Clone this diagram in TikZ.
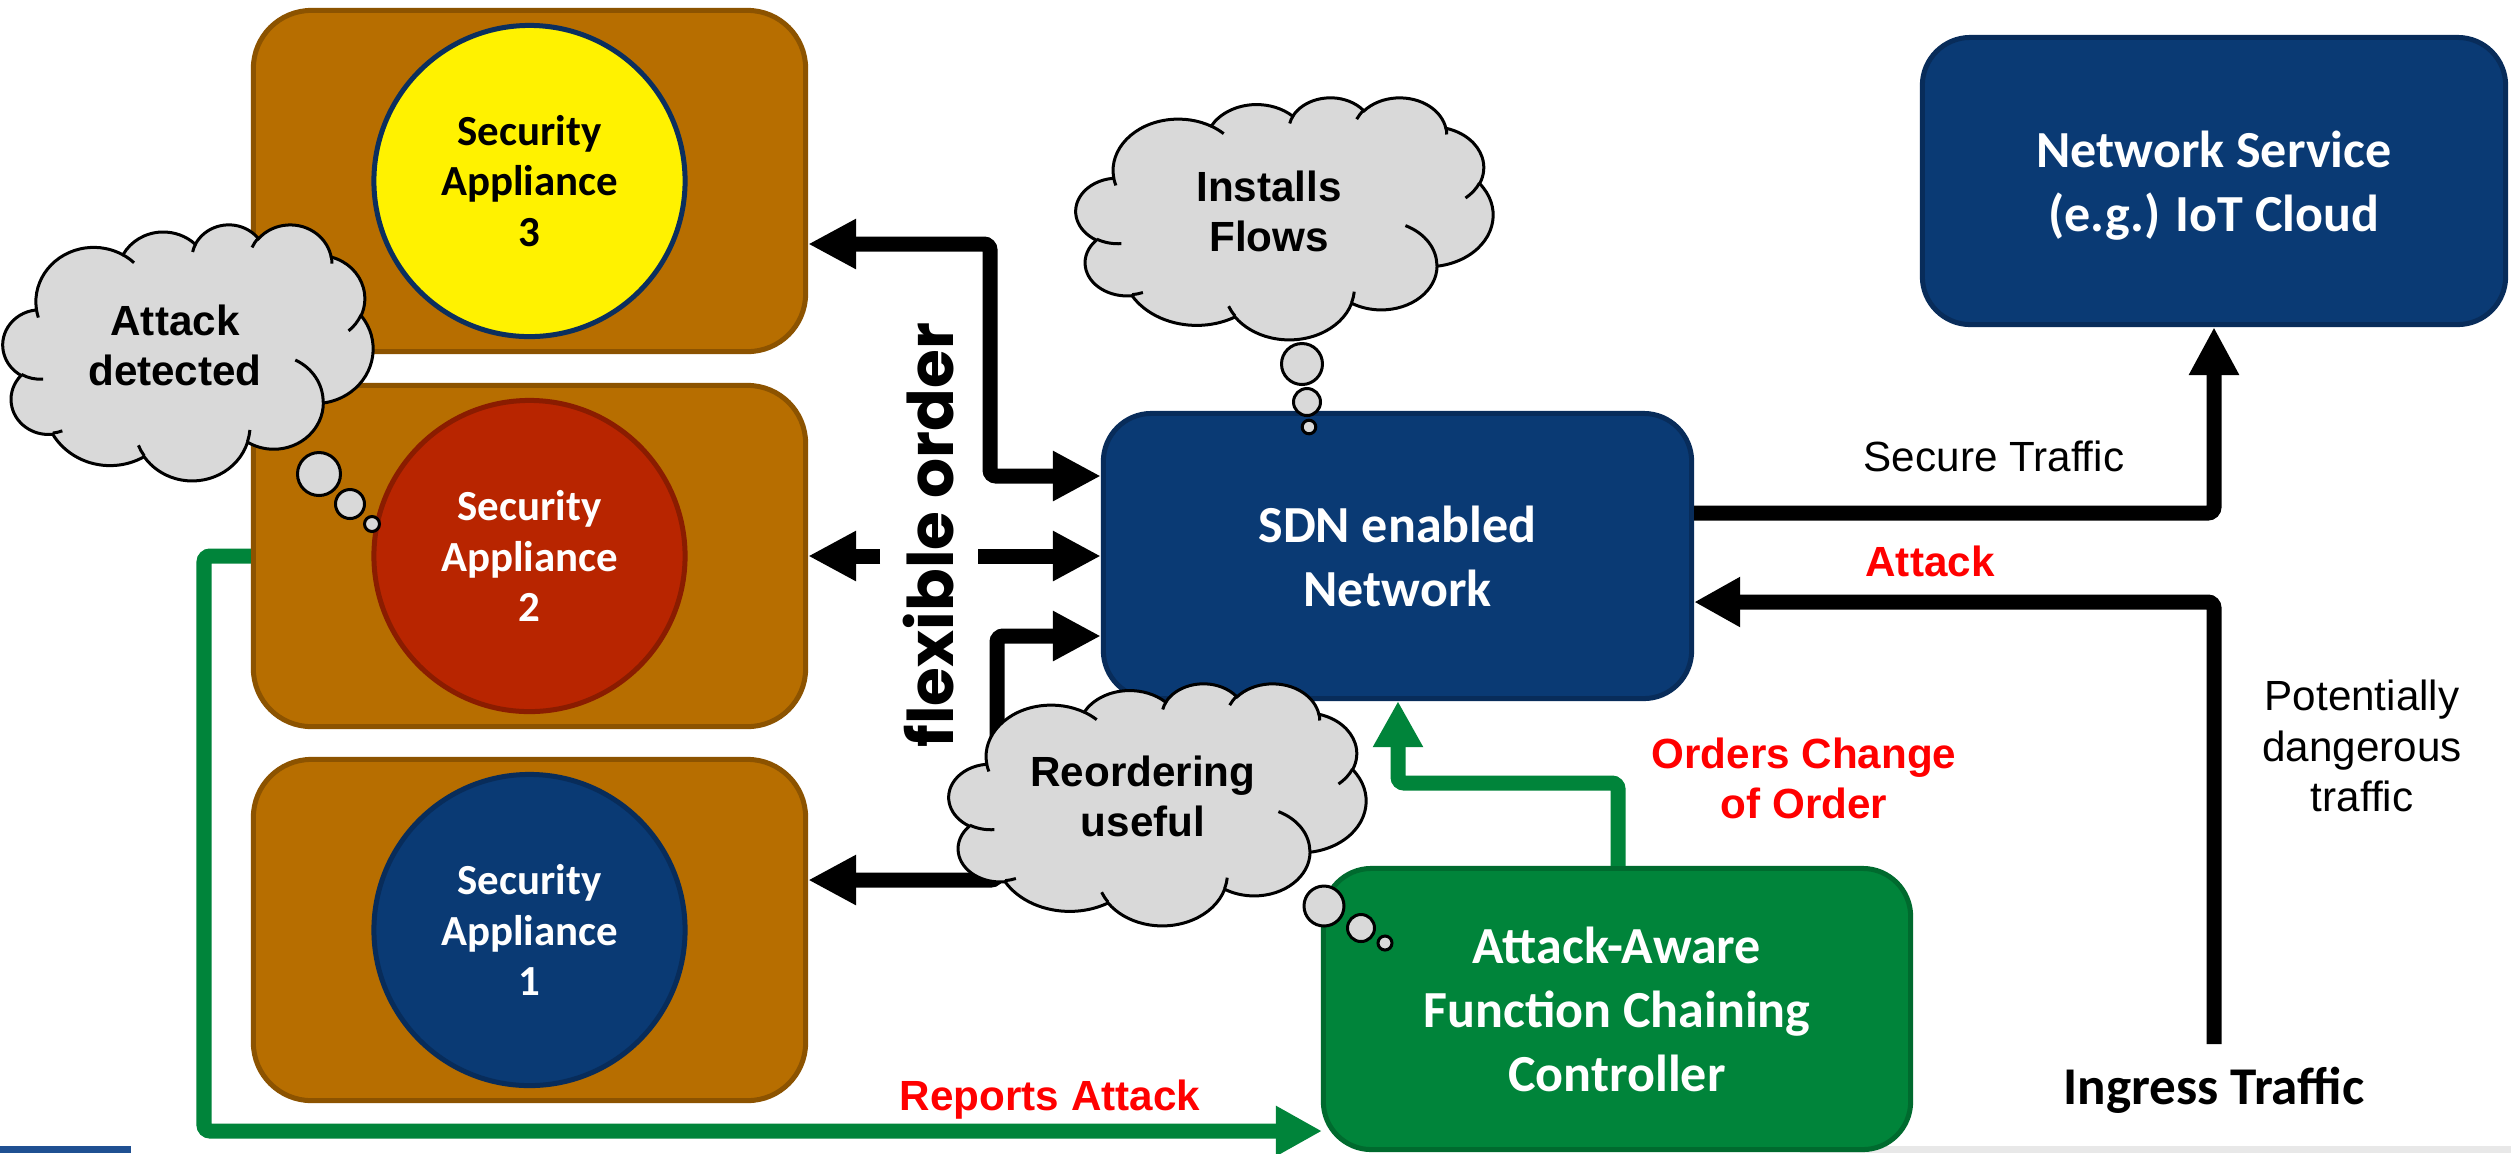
\documentclass[tikz,border=0pt]{standalone}
\usepackage{fontspec}
\setmainfont{Liberation Sans}
\newfontfamily\calfont{Carlito}
\newfontfamily\geofont{Poppins}
\usetikzlibrary{arrows.meta,calc}

\definecolor{navyfill}{HTML}{0A3A74}
\definecolor{navyedge}{HTML}{082C5A}
\definecolor{brownfill}{HTML}{B76E00}
\definecolor{brownedge}{HTML}{8C5300}
\definecolor{greenfill}{HTML}{00843A}
\definecolor{greenedge}{HTML}{006A2E}
\definecolor{redfill}{HTML}{B82500}
\definecolor{rededge}{HTML}{8A1C00}
\definecolor{yellowedge}{HTML}{0B2F5E}
\definecolor{cloudgray}{HTML}{D9D9D9}
\definecolor{alertred}{HTML}{FF0000}
\definecolor{barblue}{HTML}{1F5092}
\definecolor{bargray}{HTML}{E8E8E8}

% one arc of the cloud outline; angles are visual angles of the ellipse
\newcommand\cloudarc[4]{arc[x radius=#1,y radius=#2,
  start angle={atan2((#1)*sin(#3),(#2)*cos(#3))},
  delta angle={mod(atan2((#1)*sin((#3)+(#4)),(#2)*cos((#3)+(#4)))-atan2((#1)*sin(#3),(#2)*cos(#3))+720,360)}]}

% cloud outline in a 432 x 432 frame
\newcommand\cloudoutline{(39,143.7)
  \cloudarc{67.53}{91.90}{-190.487}{123.781}
  \cloudarc{53.33}{72.67}{-144.102}{89.945}
  \cloudarc{43.65}{59.45}{-145.808}{99.723}
  \cloudarc{48.57}{65.95}{-130.986}{117.242}
  \cloudarc{53.33}{72.73}{-78.709}{109.027}
  \cloudarc{67.75}{92.20}{-46.267}{130.269}
  \cloudarc{57.85}{78.67}{0.625}{114.033}
  \cloudarc{67.52}{92.15}{22.452}{115.173}
  \cloudarc{77.20}{105.43}{66.243}{75.711}
  \cloudarc{43.60}{59.18}{-274.942}{146.736}
  \cloudarc{43.45}{59.45}{-246.829}{152.519} -- cycle}

% small inner strokes of the cloud
\newcommand\cloudinner{%
  (46.93,261.77) \cloudarc{43.45}{59.45}{86.742}{26.430}
  (69.28,348.99) \cloudarc{43.60}{59.18}{73.610}{11.447}
  (164.78,390.90) \cloudarc{67.52}{92.15}{137.624}{14.081}
  (288.27,347.51) \cloudarc{67.52}{92.15}{6.453}{15.998}
  (341.29,229.54) \cloudarc{57.85}{78.67}{-70.292}{70.917}
  (417.98,153.54) \cloudarc{53.33}{72.73}{30.318}{27.752}
  (383.24,54.26) \cloudarc{48.57}{65.95}{-13.744}{14.859}
  (290.78,39.52) \cloudarc{48.57}{65.95}{-149.181}{18.195}
  (221.41,47.20) \cloudarc{43.65}{59.45}{-163.494}{17.686}
  (140.00,51.92) \cloudarc{67.53}{91.90}{-66.707}{12.319}
  (41.27,157.89) \cloudarc{67.53}{91.90}{157.654}{11.858}}

% cloud with top-left corner (#1,#2), width #3, height #4
\newcommand\thoughtcloud[4]{%
  \begin{scope}[shift={(#1,#2)},xscale=#3/432,yscale=#4/432]
    \filldraw[cloudbody] \cloudoutline;
    \draw[cloudbody,fill=none] \cloudinner;
  \end{scope}}

\begin{document}
\begin{tikzpicture}[x=0.01cm,y=-0.01cm,
  applbox/.style={draw=brownedge,fill=brownfill,line width=0.05cm,rounded corners=0.58cm,
    minimum width=5.52cm,minimum height=3.41cm,inner sep=0pt},
  appl/.style={circle,line width=0.05cm,minimum size=3.11cm,inner sep=0pt,align=center,
    font=\calfont\bfseries\fontsize{12.2}{14.3}\selectfont},
  bluebox/.style={draw=navyedge,fill=navyfill,line width=0.05cm,rounded corners=0.48cm,
    inner sep=0pt,align=center,text=white,font=\calfont\bfseries\fontsize{14.8}{18.2}\selectfont},
  greenbox/.style={draw=greenedge,fill=greenfill,line width=0.05cm,rounded corners=0.48cm,
    inner sep=0pt,align=center,text=white,font=\calfont\bfseries\fontsize{14.8}{18.2}\selectfont},
  cloudbody/.style={draw=black,fill=cloudgray,line width=0.03cm},
  cloudtext/.style={inner sep=0pt,align=center,font=\bfseries\fontsize{12}{14.2}\selectfont},
  lbl/.style={inner sep=0pt,align=center,font=\fontsize{12}{14.4}\selectfont},
  alertlbl/.style={inner sep=0pt,align=center,text=alertred,font=\bfseries\fontsize{12}{14.3}\selectfont},
  conn/.style={draw=black,line width=0.15cm,rounded corners=0.06cm,
    arrows={-Triangle[length=0.48cm,width=0.47cm]}},
  gconn/.style={draw=greenfill,line width=0.15cm,rounded corners=0.06cm,
    arrows={-Triangle[length=0.46cm,width=0.47cm]}}]

\useasboundingbox (0,0) rectangle (2511,1153);
\fill[white] (0,0) rectangle (2511,1153);

% strips along the lower edge
\fill[barblue] (0,1146) rectangle (131,1153);
\fill[bargray] (1800,1146) rectangle (2511,1153);

% green report path runs behind the appliance boxes
\coordinate (g1) at (204,556);
\coordinate (g2) at (204,1131);

% appliance boxes
\node[applbox] (sa3box) at (529.5,181) {};
\node[applbox] (sa2box) at (529.5,556) {};
\node[applbox] (sa1box) at (529.5,930) {};

\draw[gconn] (sa2box.west) -- (g1) -- (g2) -- (1322,1131) coordinate (g3);

\node[appl,draw=yellowedge,fill=yellow,text=black] (sa3) at (sa3box.center) {Security\\Appliance\\3};
\node[appl,draw=rededge,fill=redfill,text=white] (sa2) at (sa2box.center) {Security\\Appliance\\2};
\node[appl,draw=navyedge,fill=navyfill,text=white] (sa1) at (sa1box.center) {Security\\Appliance\\1};

% network and controller boxes
\node[bluebox,minimum width=5.88cm,minimum height=2.85cm] (sdn) at (1397.5,556) {SDN enabled\\Network};
\node[bluebox,minimum width=5.83cm,minimum height=2.87cm,text depth=0pt] (svc) at (2214,181) {Network Service\\(e.g.) IoT Cloud};
\node[greenbox,minimum width=5.87cm,minimum height=2.81cm] (ctrl) at (1617,1009) {Attack-Aware\\Function Chaining\\Controller};

\node[inner sep=0pt,anchor=base,font=\calfont\bfseries\fontsize{15.1}{18}\selectfont] (ingress) at (2214,1104) {Ingress Traffic};

% flexible chaining between appliances and the network
\coordinate (k3a) at (990,244);
\coordinate (k3b) at (990,476);
\draw[conn,arrows={Triangle[length=0.48cm,width=0.47cm]-Triangle[length=0.48cm,width=0.47cm]}]
  (sa3box.east |- k3a) -- (k3a) -- (k3b) -- (sdn.west |- k3b);

\coordinate (m2l) at (880,556);
\coordinate (m2r) at (978,556);
\draw[conn] (m2l) -- (sa2box.east |- m2l);
\draw[conn] (m2r) -- (sdn.west |- m2r);

\coordinate (k1a) at (997,880);
\coordinate (k1b) at (997,636);
\draw[conn,arrows={Triangle[length=0.48cm,width=0.47cm]-Triangle[length=0.48cm,width=0.47cm]}]
  (sa1box.east |- k1a) -- (k1a) -- (k1b) -- (sdn.west |- k1b);

% traffic on the right
\coordinate (ks) at (2214,513);
\draw[conn] (sdn.east |- ks) -- (ks) -- (svc.south);

\coordinate (ki0) at (2214,1044);
\coordinate (ki1) at (2214,602);
\draw[conn,arrows={-Triangle[length=0.46cm,width=0.47cm]}] (ki0) -- (ki1) -- (sdn.east |- ki1);

% controller orders the change of order
\coordinate (o1) at (1618,783);
\coordinate (o2) at (1398,783);
\draw[gconn] (ctrl.north -| o1) -- (o1) -- (o2) -- (sdn.south -| o2);

% thought clouds
\thoughtcloud{3}{224}{370}{256}
\draw[cloudbody] (319,474) circle[radius=21.5];
\draw[cloudbody] (350,504) circle[radius=14.5];
\draw[cloudbody] (372,524) circle[radius=7.5];
\node[cloudtext] (detected) at (175,345) {Attack\\detected};

\thoughtcloud{1076}{97}{417}{242}
\draw[cloudbody] (1302,364) circle[radius=20.5];
\draw[cloudbody] (1307,402) circle[radius=13.5];
\draw[cloudbody] (1309,427) circle[radius=6.8];
\node[cloudtext] (installs) at (1269,211.5) {Installs\\Flows};

\thoughtcloud{949}{683}{417}{242}
\draw[cloudbody] (1324,906) circle[radius=20];
\draw[cloudbody] (1361,928) circle[radius=13.5];
\draw[cloudbody] (1385,943) circle[radius=7];
\node[cloudtext] (reorder) at (1143,796.5) {Reordering\\useful};

% rotated caption
\node[inner sep=0pt,anchor=base,rotate=90,font=\geofont\bfseries\fontsize{17.9}{20}\selectfont] (flex) at (953,535) {flexible order};

% labels
\node[lbl,anchor=base] (securelbl) at (1994,471) {Secure Traffic};
\node[alertlbl,anchor=base] (attacklbl) at (1930,576) {Attack};
\node[lbl] (dangerlbl) at (2362,746) {Potentially\\dangerous\\traffic};
\node[alertlbl] (orderslbl) at (1804,778.5) {Orders Change\\of Order};
\node[alertlbl,anchor=base] (reportslbl) at (1050,1110) {Reports Attack};

\end{tikzpicture}
\end{document}
